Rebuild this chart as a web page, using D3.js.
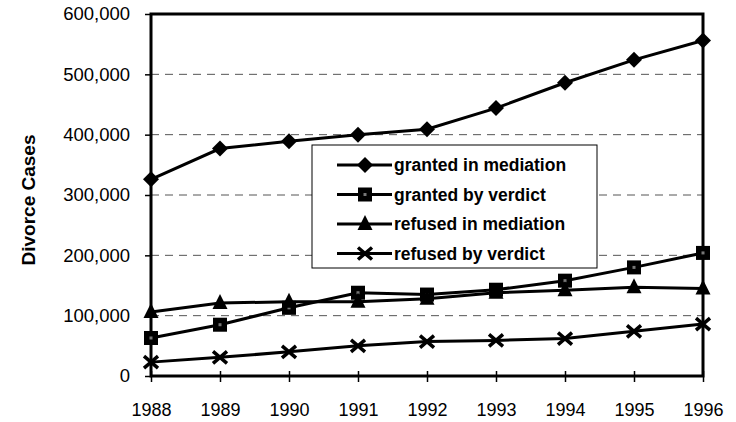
<!DOCTYPE html>
<html><head><meta charset="utf-8">
<script src="https://cdn.jsdelivr.net/npm/d3@7"></script>
<style>body{margin:0;background:#fff}svg{display:block}text{font-family:"Liberation Sans",Arial,sans-serif}</style>
</head><body><svg id="c" width="736" height="422"></svg>
<script>
const years = [1988,1989,1990,1991,1992,1993,1994,1995,1996];
const grantedMediation = [326000,377000,389000,400000,409000,444000,486000,524000,556000];
const grantedVerdict = [63000,85000,113000,138000,135000,143000,158000,180000,204000];
const refusedMediation = [106000,121000,123000,123000,128000,138000,142000,147000,145000];
const refusedVerdict = [23000,31000,40000,50000,57000,59000,62000,74000,86000];
const yTicks = [0,100000,200000,300000,400000,500000,600000];
const seriesNames = ["granted in mediation","granted by verdict","refused in mediation","refused by verdict"];
const seriesValues = [grantedMediation, grantedVerdict, refusedMediation, refusedVerdict];
const markerTypes = ["diamond","square","triangle","cross"];

const svg = d3.select("#c");
const L=151,R=703,T=14,B=376;
const x = d3.scalePoint().domain(years).range([L,R]);
const y = d3.scaleLinear().domain([0,600000]).range([B,T]);
const fmt = d3.format(",");

// gridlines
svg.append("g").selectAll("line").data(yTicks.filter(d=>d>0&&d<600000)).join("line")
  .attr("x1",L).attr("x2",R).attr("y1",d=>y(d)).attr("y2",d=>y(d))
  .attr("stroke","#555").attr("stroke-width",1).attr("stroke-dasharray","8,6");

// y axis
const ya = svg.append("g").attr("transform",`translate(${L},0)`)
  .call(d3.axisLeft(y).tickValues(yTicks).tickFormat(fmt).tickSize(6).tickPadding(15));
ya.select(".domain").remove();
ya.selectAll("line").attr("stroke","#000").attr("stroke-width",1.5);
ya.selectAll("text").style("font-size","18.5px").attr("fill","#000");

// x axis
const xa = svg.append("g").attr("transform",`translate(0,${B})`)
  .call(d3.axisBottom(x).tickSize(6).tickPadding(21));
xa.select(".domain").remove();
xa.selectAll("line").attr("y1",-5).attr("stroke","#000").attr("stroke-width",1.5);
xa.selectAll("text").style("font-size","18px").attr("fill","#000");

// frame
svg.append("rect").attr("x",L).attr("y",T).attr("width",R-L).attr("height",B-T)
  .attr("fill","none").attr("stroke","#000").attr("stroke-width",3);

// y title
svg.append("text").attr("transform",`translate(35,200) rotate(-90)`)
  .attr("text-anchor","middle").attr("font-weight","bold").style("font-size","19px").text("Divorce Cases");

function marker(g,type,cx,cy){
  if(type==="diamond"){
    g.append("path").attr("d",`M${cx},${cy-8}L${cx+8},${cy}L${cx},${cy+8}L${cx-8},${cy}Z`).attr("fill","#000");
  } else if(type==="square"){
    g.append("rect").attr("x",cx-7).attr("y",cy-7).attr("width",14).attr("height",14).attr("fill","#000");
    g.append("rect").attr("x",cx-1.5).attr("y",cy-1.5).attr("width",3).attr("height",3).attr("fill","#777");
  } else if(type==="triangle"){
    g.append("path").attr("d",`M${cx},${cy-9}L${cx+7.5},${cy+6}L${cx-7.5},${cy+6}Z`).attr("fill","#000");
  } else {
    g.append("path").attr("d",`M${cx-7},${cy-6}L${cx+7},${cy+6}M${cx-7},${cy+6}L${cx+7},${cy-6}`)
      .attr("stroke","#000").attr("stroke-width",3.5);
  }
}

const line = d3.line().x((d,i)=>x(years[i])).y(d=>y(d));
seriesValues.forEach((vals,si)=>{
  const g = svg.append("g");
  g.append("path").datum(vals).attr("d",line).attr("fill","none").attr("stroke","#000").attr("stroke-width",3);
  vals.forEach((v,i)=>marker(g,markerTypes[si],x(years[i]),y(v)));
});

// legend
const lg = svg.append("g");
lg.append("rect").attr("x",312).attr("y",145).attr("width",285).attr("height",123)
  .attr("fill","#fff").attr("stroke","#000").attr("stroke-width",1);
seriesNames.forEach((n,i)=>{
  const cy = 165 + i*29.5;
  lg.append("line").attr("x1",337).attr("x2",392).attr("y1",cy).attr("y2",cy).attr("stroke","#000").attr("stroke-width",3);
  marker(lg,markerTypes[i],365,cy);
  lg.append("text").attr("x",394).attr("y",cy+6).attr("font-weight","bold").style("font-size","17.5px").text(n);
});
</script></body></html>
